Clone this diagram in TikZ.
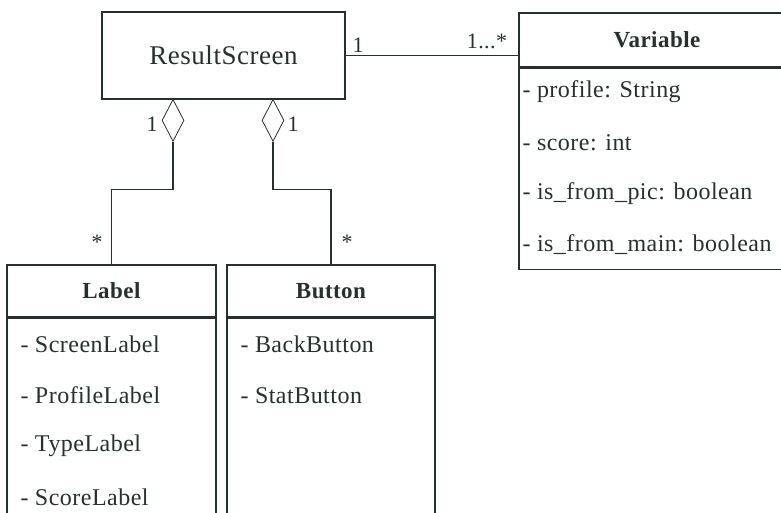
\documentclass[tikz,border=0pt]{standalone}
\usepackage{fontspec}
\setmainfont{Liberation Serif}[LetterSpace=2]
\usetikzlibrary{shapes.geometric}
\definecolor{ink}{RGB}{40,48,45}

\begin{document}
\begin{tikzpicture}[x=1pt,y=-1pt,line width=1.1pt,color=ink,
  cls/.style={draw,rectangle,inner sep=0pt},
  head/.style={cls,font=\fontsize{23}{26}\selectfont\bfseries},
  attr/.style={anchor=west,inner sep=0pt,font=\fontsize{24}{26}\selectfont},
  mult/.style={inner sep=0pt,font=\fontsize{22}{24}\selectfont},
  aggr/.style={draw,diamond,aspect=0.5,minimum width=22pt,minimum height=42pt,inner sep=0pt,line width=0.8pt,fill=white}]
  \clip (0,0) rectangle (781,513);
  \fill[white] (0,0) rectangle (781,513);
  % ResultScreen
  \node[cls,minimum width=243pt,minimum height=87pt,font=\fontsize{27}{29}\selectfont] (result) at (223.5,55.5) {ResultScreen};
  % Label class
  \node[head,minimum width=209pt,minimum height=52pt] (lblhead) at (111.5,291) {Label};
  \node[cls,anchor=north,minimum width=209pt,minimum height=240pt] (lblbody) at (lblhead.south) {};
  \foreach \t [count=\i] in {ScreenLabel,ProfileLabel,TypeLabel,ScoreLabel}
    \node[attr] (lbl\i) at (20,294+50.7*\i) {- \t};
  % Button class
  \node[head,minimum width=208pt,minimum height=52pt] (btnhead) at (331,291) {Button};
  \node[cls,anchor=north,minimum width=208pt,minimum height=240pt] (btnbody) at (btnhead.south) {};
  \foreach \t [count=\i] in {BackButton,StatButton}
    \node[attr] (btn\i) at (240,294+50.7*\i) {- \t};
  % Variable class
  \node[head,minimum width=276pt,minimum height=54pt] (varhead) at (657,40) {Variable};
  \node[cls,anchor=north,minimum width=276pt,minimum height=201pt] (varbody) at (varhead.south) {};
  \foreach \t [count=\i] in {profile: String,score: int,is\_from\_pic: boolean,is\_from\_main: boolean}
    \node[attr] (var\i) at (522,40.5+51*\i) {- \t};
  % association
  \draw (result.east) -- (result.east -| varhead.west);
  \node[mult] (m1) at (358,45) {1};
  \node[mult] (m2) at (487,41) {1...*};
  % aggregations
  \node[aggr,anchor=north] (dl) at (173,99) {};
  \node[aggr,anchor=north] (dr) at (273,99) {};
  \draw (dl.south) -- ++(0,48) -| (lblhead.north);
  \draw (dr.south) -- ++(0,48) -| (btnhead.north);
  \node[mult] (ml) at (152,124) {1};
  \node[mult] (mr) at (293,124) {1};
  \node[mult] (sl) at (97,242) {*};
  \node[mult] (sr) at (347,242) {*};
\end{tikzpicture}
\end{document}
